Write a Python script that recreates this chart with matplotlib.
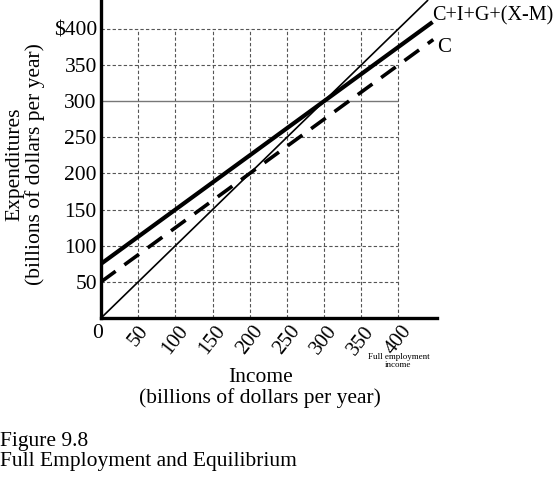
import matplotlib
matplotlib.use("Agg")
import matplotlib.pyplot as plt
import numpy as np

# values
grid_vals = [50, 100, 150, 200, 250, 300, 350, 400]
x_ticks = [50, 100, 150, 200, 250, 300, 350, 400]
x_tick_labels = ["50", "100", "150", "200", "250", "300", "350", "400"]
y_ticks = [50, 100, 150, 200, 250, 300, 350, 400]
y_tick_labels = ["50", "100", "150", "200", "250", "300", "350", "$400"]

income_45 = [0, 440]
spend_45 = [0, 440]
income_agg = [0, 446]
spend_agg = [75, 409.5]
income_c = [0, 447]
spend_c = [50, 385.25]

plt.rcParams['font.family'] = ['Liberation Serif', 'DejaVu Serif']

fig = plt.figure(figsize=(5.6, 4.82), dpi=100)
ax = fig.add_axes([0.1804, 0.3402, 0.6, 0.6598])
ax.set_xlim(0, 452)
ax.set_ylim(0, 440)

# grid
ax.vlines(grid_vals, 0, 400, colors='#555555', linestyles=(0, (3, 2)), lw=0.8)
ax.hlines([v for v in grid_vals if v != 300], 0, 400, colors='#555555',
          linestyles=(0, (3, 2)), lw=0.8)
ax.hlines([300], 0, 400, colors='#777777', lw=1.0)

# lines
ax.plot(income_45, spend_45, color='black', lw=1.2, solid_capstyle='butt')
ax.plot(income_agg, spend_agg, color='black', lw=3.0, solid_capstyle='butt')
ax.plot(income_c, spend_c, color='black', lw=2.6, dashes=(5, 3))

ax.text(446, 418, "C+I+G+(X-M)", fontsize=14.5, va='center', ha='left')
ax.text(452, 374, "C", fontsize=15, va='center', ha='left')

for s in ['top', 'right']:
    ax.spines[s].set_visible(False)
for s in ['left', 'bottom']:
    ax.spines[s].set_linewidth(2.4)

ax.set_yticks(y_ticks)
ax.set_yticklabels(y_tick_labels, fontsize=15.5)
ax.set_xticks(x_ticks)
ax.set_xticklabels(x_tick_labels, fontsize=15, rotation=52, ha='center',
                   va='top')
ax.tick_params(length=0, pad=3)
ax.text(-5, -8, "0", fontsize=15.5, ha='center', va='top')

ax.text(400, -49, "Full employment\nincome", fontsize=6.5, ha='center', va='top',
        linespacing=1.0)

fig.text(0.465, 0.195, "Income\n(billions of dollars per year)", fontsize=15.5,
         ha='center', va='center', linespacing=1.05)
fig.text(0.045, 0.66, "Expenditures\n(billions of dollars per year)", fontsize=15.5,
         ha='center', va='center', rotation=90, linespacing=1.05)

fig.text(0.0, 0.063, "Figure 9.8\nFull Employment and Equilibrium", fontsize=15.5,
         ha='left', va='center', linespacing=1.1)

fig.savefig("out.png", dpi=100)
